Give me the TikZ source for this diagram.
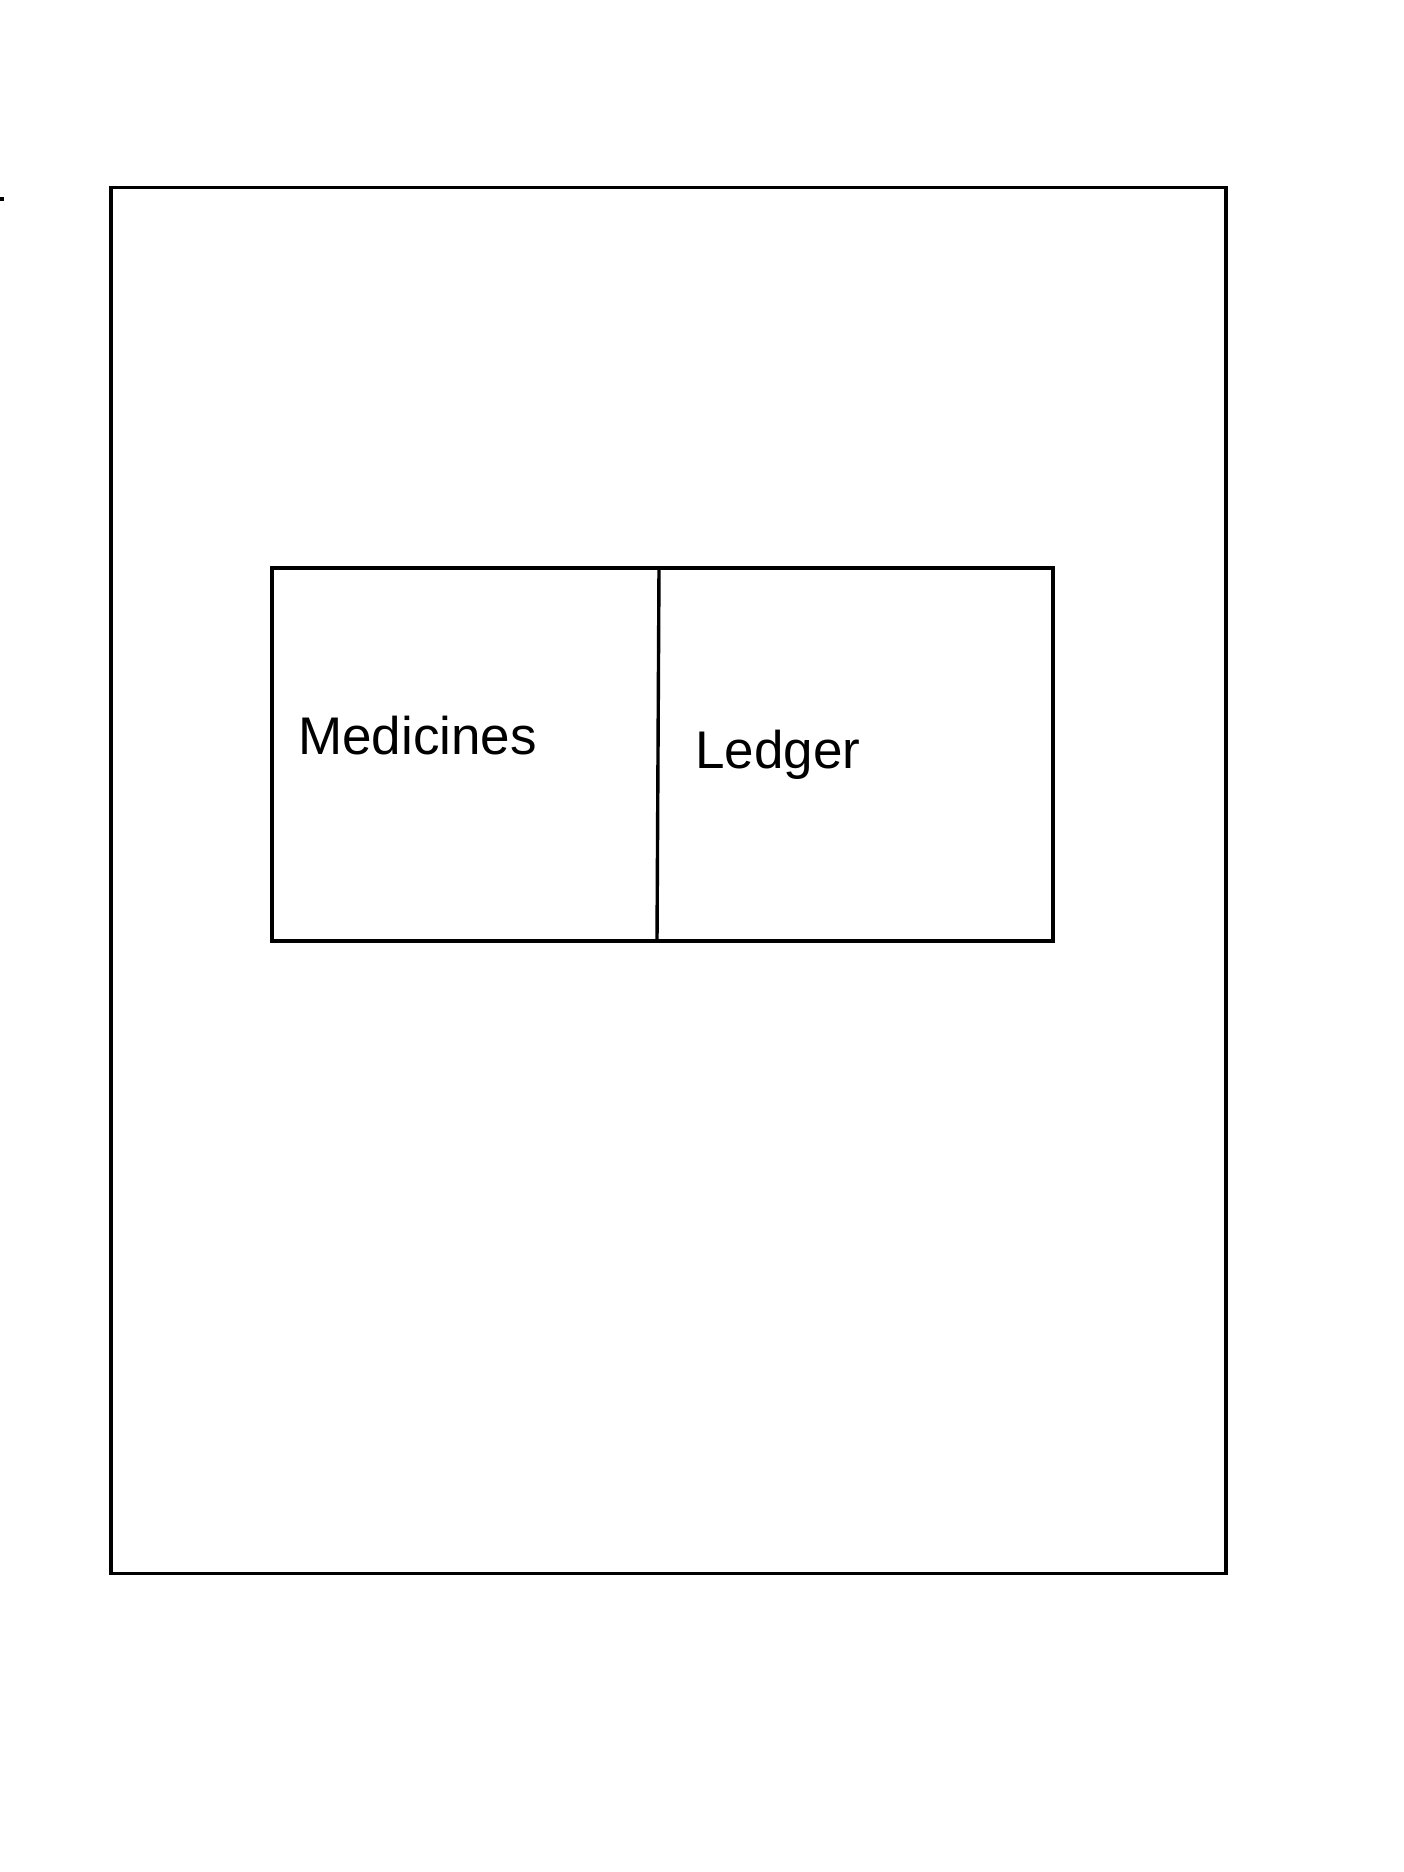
\documentclass[tikz,border=0pt]{standalone}
\usepackage{fontspec}
\setmainfont{Liberation Sans}
\begin{document}
\begin{tikzpicture}[x=1pt,y=-1pt,
  frame/.style={draw=black,line width=3.4pt,inner sep=0pt,minimum width=#1},
  lbl/.style={anchor=base west,inner sep=0pt,font=\fontsize{53}{64}\selectfont},
  ink/.style={line width=3.4pt,line cap=round}]
\useasboundingbox[fill=white] (0,0) rectangle (1404,1872);
\node[frame=1115pt,minimum height=1386pt] (outer) at (668.5,880.5) {};
\node[frame=781pt,minimum height=373pt] (cabinet) at (662.5,754.5) {};
\coordinate (dtop) at (659,568);
\coordinate (dbot) at (657,941);
\draw[ink] (dtop) -- (dbot);
\node[lbl] (med) at (298,754) {Medicines};
\node[lbl] (led) at (695,768) {Ledger};
\coordinate (m1) at (0,199);
\coordinate (m2) at (4,199);
\draw[ink,line cap=butt] (m1) -- (m2);
\end{tikzpicture}
\end{document}
